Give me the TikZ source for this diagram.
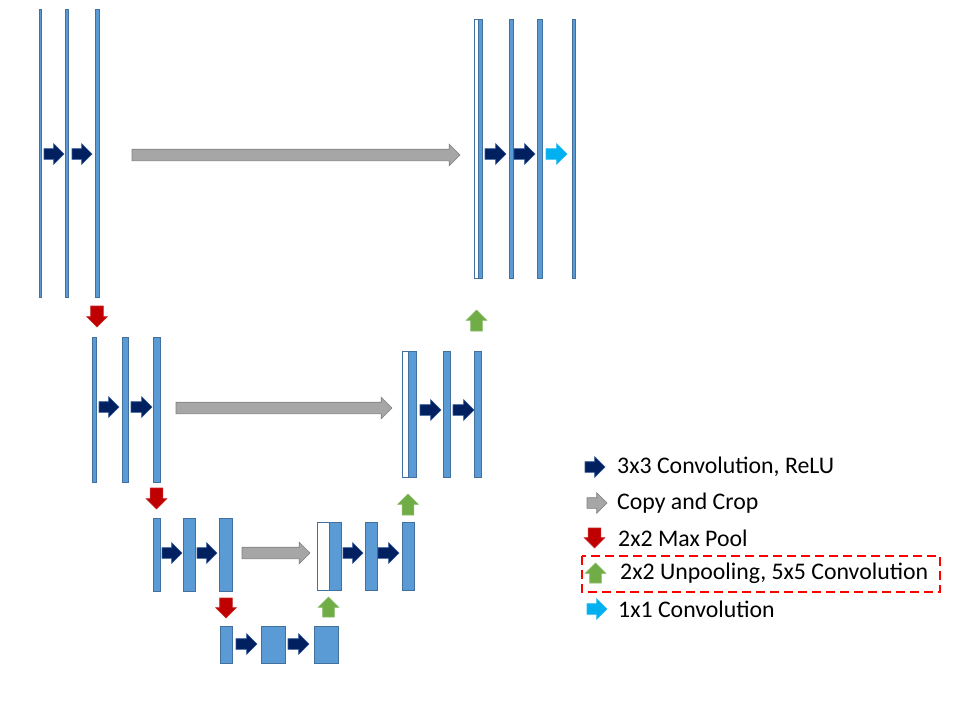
\documentclass[tikz,border=0pt]{standalone}
\usepackage{fontspec}
\setmainfont{Carlito}
\usetikzlibrary{shapes.arrows}

\definecolor{barblue}{HTML}{5B9BD5}
\definecolor{barline}{HTML}{41719C}
\definecolor{navy}{HTML}{002060}
\definecolor{navyline}{HTML}{2F5597}
\definecolor{copygray}{HTML}{A6A6A6}
\definecolor{copyline}{HTML}{7F7F7F}
\definecolor{poolred}{HTML}{C00000}
\definecolor{upgreen}{HTML}{70AD47}
\definecolor{onecyan}{HTML}{00B0F0}

\tikzset{
  bar/.style={fill=barblue, draw=barline, line width=0.8pt},
  crop/.style={fill=white, draw=barline, line width=0.8pt},
  blk/.style={single arrow, anchor=tail, inner sep=5pt, outer sep=0pt,
    minimum height=20pt, single arrow head extend=5pt,
    single arrow tip angle=90, line width=0.6pt},
  conv/.style={blk, fill=navy, draw=navyline},
  copy/.style={blk, fill=copygray, draw=copyline, inner sep=5.5pt},
  pool/.style={blk, fill=poolred, draw=poolred!85!white, inner sep=6pt,
    single arrow head extend=4pt, shape border rotate=270},
  unpool/.style={blk, fill=upgreen, draw=upgreen!85!white, inner sep=5.5pt,
    single arrow head extend=4.5pt, shape border rotate=90},
  oneconv/.style={blk, fill=onecyan, draw=onecyan!85!white},
  legtext/.style={anchor=west, inner sep=0pt, font=\fontsize{23.8}{28}\selectfont}
}

\begin{document}
\begin{tikzpicture}[x=1pt, y=-1pt]
\useasboundingbox (0,0) rectangle (973,720);

% level 1 (down)
\draw[bar] (39,9) rectangle (41,297);
\draw[bar] (65,9) rectangle (68.5,297);
\draw[bar] (95,9) rectangle (99,297);
\node[conv] (c1a) at (44,154) {};
\node[conv] (c1b) at (72,154) {};

% level 1 (up)
\draw[crop] (474,19) rectangle (478,278);
\draw[bar] (478,19) rectangle (482,278);
\draw[bar] (509,19) rectangle (513,278);
\draw[bar] (537,19) rectangle (542,278);
\draw[bar] (572,19) rectangle (575,278);
\node[conv, minimum height=21pt] (u1a) at (485,154) {};
\node[conv, minimum height=21pt] (u1b) at (514,154) {};
\node[oneconv, minimum height=21pt] (o1) at (546,154) {};

\node[copy, minimum height=328pt] (k1) at (132,155) {};
\node[pool, minimum height=21pt] (p1) at (97,306) {};
\node[unpool, minimum height=21pt] (g1) at (476.5,331) {};

% level 2
\draw[bar] (92,337) rectangle (96,482);
\draw[bar] (122,337) rectangle (128,482);
\draw[bar] (153,337) rectangle (160,482);
\node[conv] (c2a) at (99,407) {};
\node[conv, minimum height=21pt] (c2b) at (131,407) {};

\draw[crop] (402,351) rectangle (408,477);
\draw[bar] (408,351) rectangle (416,477);
\draw[bar] (443,351) rectangle (450,477);
\draw[bar] (474,351) rectangle (481,477);
\node[conv, minimum height=21pt] (u2a) at (420,410) {};
\node[conv, minimum height=21pt] (u2b) at (453,410) {};

\node[copy, minimum height=216pt] (k2) at (176,408) {};
\node[pool, minimum height=21pt] (p2) at (156.5,488) {};
\node[unpool, minimum height=21pt] (g2) at (408,515) {};

% level 3
\draw[bar] (153,518) rectangle (160,591);
\draw[bar] (183,518) rectangle (195,591);
\draw[bar] (219,518) rectangle (232,591);
\node[conv] (c3a) at (162,553) {};
\node[conv] (c3b) at (197,553) {};

\draw[crop] (317,522) rectangle (329,590);
\draw[bar] (329,522) rectangle (341,590);
\draw[bar] (365,522) rectangle (377,590);
\draw[bar] (402,522) rectangle (414,590);
\node[conv] (u3a) at (343,553) {};
\node[conv, minimum height=21pt] (u3b) at (378,553) {};

\node[copy, minimum height=68pt] (k3) at (242,553) {};
\node[pool] (p3) at (226,598) {};
\node[unpool] (g3) at (328.5,617) {};

% level 4
\draw[bar] (220,626) rectangle (232,663);
\draw[bar] (261,626) rectangle (285,663);
\draw[bar] (314,626) rectangle (338,663);
\node[conv, minimum height=21pt] (c4a) at (236,644) {};
\node[conv, minimum height=21pt] (c4b) at (288,644) {};

% legend
\node[conv] (lconv) at (585,467) {};
\node[legtext] (tconv) at (617,467) {3x3 Convolution, ReLU};
\node[copy, inner sep=5pt] (lcopy) at (587,503) {};
\node[legtext] (tcopy) at (617,503) {Copy and Crop};
\node[pool] (lpool) at (594.5,528) {};
\node[legtext] (tpool) at (618,538) {2x2 Max Pool};
\node[unpool] (lup) at (595.5,583) {};
\node[legtext] (tup) at (620,573) {2x2 Unpooling, 5x5 Convolution};
\node[oneconv] (lone) at (587,609) {};
\node[legtext] (tone) at (618,609) {1x1 Convolution};
\draw[red, line width=2pt, dash pattern=on 9pt off 5pt] (582,556) rectangle (940,592);
\end{tikzpicture}
\end{document}
